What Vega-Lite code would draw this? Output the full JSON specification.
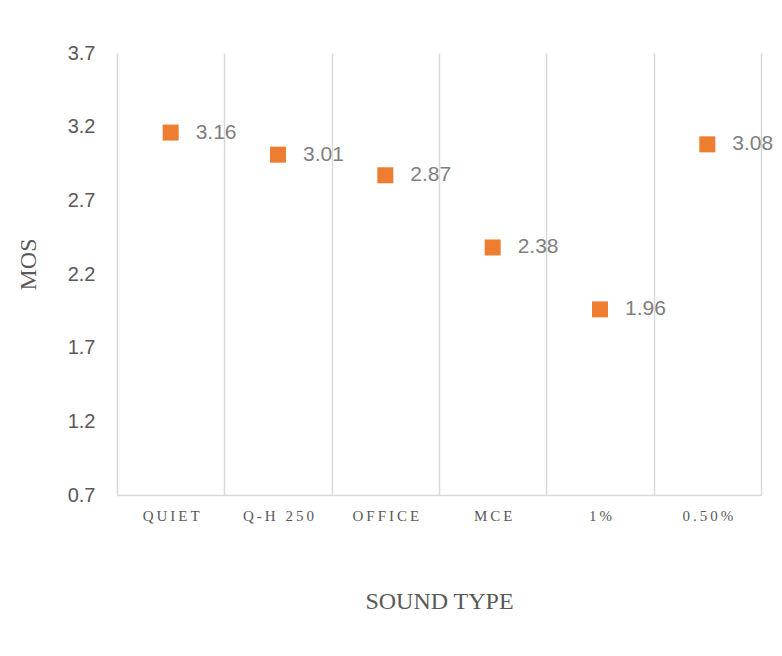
{
  "$schema": "https://vega.github.io/schema/vega-lite/v6.json",
  "autosize": {"type": "none"},
  "width": 644,
  "height": 442,
  "padding": {"left": 117, "top": 53, "right": 21, "bottom": 161},
  "background": "white",
  "config": {"view": {"stroke": null}},
  "data": {
    "values": [
      {"sound": "QUIET", "mos": 3.16},
      {"sound": "Q-H 250", "mos": 3.01},
      {"sound": "OFFICE", "mos": 2.87},
      {"sound": "MCE", "mos": 2.38},
      {"sound": "1%", "mos": 1.96},
      {"sound": "0.50%", "mos": 3.08}
    ]
  },
  "encoding": {
    "x": {
      "field": "sound",
      "type": "nominal",
      "sort": null,
      "scale": {"paddingInner": 0, "paddingOuter": 0},
      "axis": {
        "title": "SOUND TYPE",
        "titleFont": "Liberation Serif",
        "titleFontSize": 24,
        "titleFontWeight": "normal",
        "titleColor": "#595959",
        "titleY": 106,
        "titleBaseline": "middle",
        "labelAngle": 0,
        "labelFont": "Liberation Serif",
        "labelFontSize": 15,
        "labelColor": "#595959",
        "labelPadding": 13,
        "labelExpr": "join(split(datum.label, ''), '\u2009')",
        "tickBand": "extent",
        "ticks": false,
        "grid": true,
        "gridColor": "#d9d9d9",
        "gridWidth": 1.5,
        "domain": true,
        "domainColor": "#d9d9d9",
        "domainWidth": 1.5
      }
    },
    "y": {
      "field": "mos",
      "type": "quantitative",
      "scale": {"domain": [0.7, 3.7], "nice": false, "zero": false},
      "axis": {
        "title": "MOS",
        "titleFont": "Liberation Serif",
        "titleFontSize": 24,
        "titleFontWeight": "normal",
        "titleColor": "#595959",
        "titleAngle": -90,
        "titleX": -89,
        "titleY": 211,
        "titleAlign": "center",
        "titleBaseline": "middle",
        "values": [0.7, 1.2, 1.7, 2.2, 2.7, 3.2, 3.7],
        "format": ".1f",
        "labelFont": "Liberation Sans",
        "labelFontSize": 20,
        "labelColor": "#595959",
        "labelPadding": 22,
        "ticks": false,
        "domain": false,
        "grid": false
      }
    }
  },
  "layer": [
    {
      "mark": {"type": "square", "size": 256, "color": "#ED7D31", "opacity": 1, "filled": true}
    },
    {
      "mark": {"type": "text", "align": "left", "baseline": "middle", "dx": 25, "font": "Liberation Sans", "fontSize": 21, "color": "#7f7f7f"},
      "encoding": {"text": {"field": "mos", "type": "quantitative", "format": ".2f"}}
    }
  ]
}
